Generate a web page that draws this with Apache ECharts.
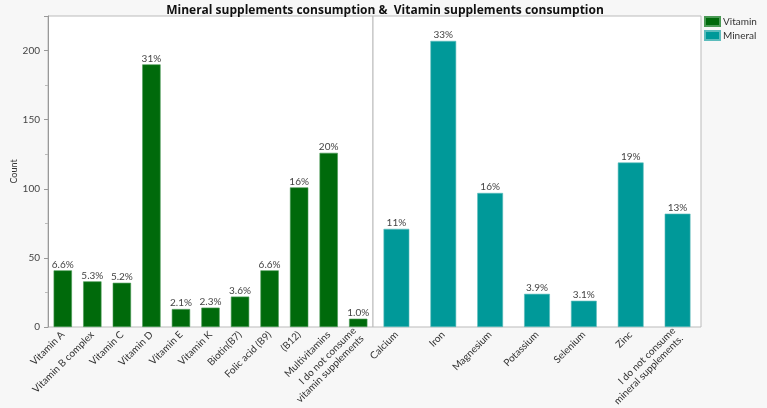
<!DOCTYPE html>
<html>
<head>
<meta charset="utf-8">
<script src="https://cdn.jsdelivr.net/npm/echarts@6/dist/echarts.min.js"></script>
<style>
  html, body { margin: 0; padding: 0; background: #f7f7f7; }
  #chart { width: 767px; height: 408px; }
</style>
</head>
<body>
<div id="chart"></div>
<script>
// vitamin panel
const vitaminCats = ["Vitamin A", "Vitamin B complex", "Vitamin C", "Vitamin D", "Vitamin E", "Vitamin K",
  "Biotin(B7)", "Folic acid (B9)", "(B12)", "Multivitamins", "I do not consume\nvitamin supplements"];
const vitaminCounts = [41, 33, 32, 190, 13, 14, 22, 41, 101, 126, 6];
const vitaminPct = ["6.6%", "5.3%", "5.2%", "31%", "2.1%", "2.3%", "3.6%", "6.6%", "16%", "20%", "1.0%"];

// mineral panel
const mineralCats = ["Calcium", "Iron", "Magnesium", "Potassium", "Selenium", "Zinc",
  "I do not consume\nmineral supplements."];
const mineralCounts = [71, 207, 97, 24, 19, 119, 82];
const mineralPct = ["11%", "33%", "16%", "3.9%", "3.1%", "19%", "13%"];

const yTicks = [0, 50, 100, 150, 200];

const font = "Lato, 'Open Sans', sans-serif";
const textGray = "#444";

function xAxisCfg(cats, idx, name) {
  return {
    type: "category",
    gridIndex: idx,
    data: cats,
    name: name,
    nameLocation: "middle",
    nameGap: 68,
    nameTextStyle: { color: "#333", fontSize: 10, fontFamily: font },
    axisLine: { show: false },
    axisTick: { show: false },
    axisLabel: {
      interval: 0,
      rotate: 45,
      color: "#333",
      fontSize: 10,
      fontFamily: font,
      lineHeight: 11,
      margin: 6,
      align: "right"
    }
  };
}

const chart = echarts.init(document.getElementById("chart"));
chart.setOption({
  backgroundColor: "#f7f7f7",
  animation: false,
  title: {
    text: "Mineral supplements consumption &  Vitamin supplements consumption",
    left: 380,
    textAlign: "center",
    top: 0,
    textStyle: { fontSize: 12, fontWeight: "bold", color: "#111", fontFamily: "'Open Sans', sans-serif" }
  },
  legend: {
    orient: "vertical",
    left: 704,
    top: 16,
    icon: "rect",
    itemWidth: 15,
    itemHeight: 9,
    itemGap: 3,
    padding: 0,
    textStyle: { fontSize: 10, color: "#333", fontFamily: font, padding: [0, 0, 0, -2] },
    data: ["Vitamin", "Mineral"]
  },
  grid: [
    { left: 48, top: 16, width: 325, height: 311, outerBoundsMode: "none", show: true, backgroundColor: "#fff", borderColor: "#bbb", borderWidth: 1 },
    { left: 373, top: 16, width: 328, height: 311, outerBoundsMode: "none", show: true, backgroundColor: "#fff", borderColor: "#bbb", borderWidth: 1 }
  ],
  xAxis: [
    xAxisCfg(vitaminCats, 0, "Vitamin supplements consumption"),
    xAxisCfg(mineralCats, 1, "Mineral supplements consumption")
  ],
  yAxis: [
    {
      type: "value",
      gridIndex: 0,
      min: 0,
      max: 225,
      interval: 50,
      name: "Count",
      nameLocation: "middle",
      nameGap: 23,
      nameTextStyle: { color: "#333", fontSize: 9, fontFamily: font },
      splitLine: { show: false },
      axisLine: { show: true, lineStyle: { color: "#999" } },
      axisTick: { show: true, length: 4, lineStyle: { color: "#999" } },
      minorTick: { show: true, splitNumber: 2, length: 3, lineStyle: { color: "#bbb" } },
      axisLabel: {
        color: textGray,
        fontSize: 10,
        fontFamily: font,
        formatter: function (v) { return yTicks.indexOf(v) >= 0 ? String(v) : ""; }
      }
    },
    {
      type: "value",
      gridIndex: 1,
      min: 0,
      max: 225,
      interval: 50,
      show: false,
      splitLine: { show: false }
    }
  ],
  series: [
    {
      name: "Vitamin",
      type: "bar",
      xAxisIndex: 0,
      yAxisIndex: 0,
      data: vitaminCounts,
      barWidth: "62%",
      itemStyle: { color: "#006a0b", borderColor: "#4a9a55", borderWidth: 0.6 },
      label: {
        show: true,
        position: "top",
        distance: 1,
        color: textGray,
        fontSize: 10,
        fontFamily: font,
        formatter: p => vitaminPct[p.dataIndex]
      }
    },
    {
      name: "Mineral",
      type: "bar",
      xAxisIndex: 1,
      yAxisIndex: 1,
      data: mineralCounts,
      barWidth: "55%",
      itemStyle: { color: "#009999", borderColor: "#5cbcbc", borderWidth: 0.6 },
      label: {
        show: true,
        position: "top",
        distance: 1,
        color: textGray,
        fontSize: 10,
        fontFamily: font,
        formatter: p => mineralPct[p.dataIndex]
      }
    }
  ]
});
</script>
</body>
</html>
